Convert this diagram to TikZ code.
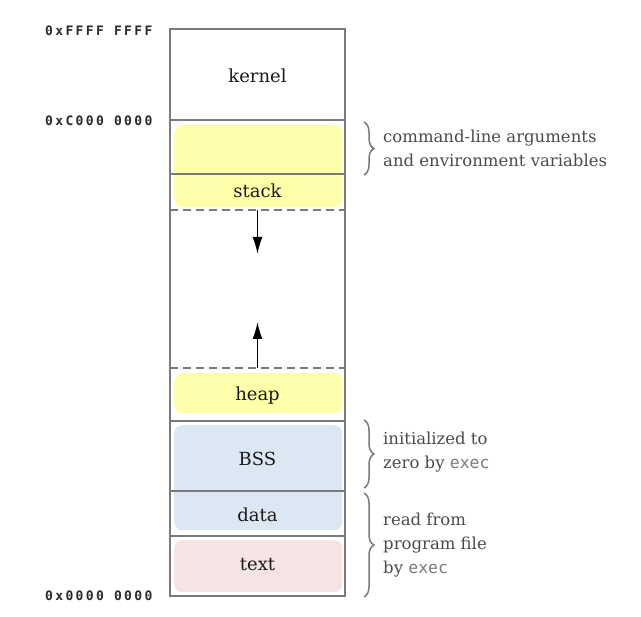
\documentclass[tikz,border=0pt]{standalone}
\usepackage{fontspec}
\setmainfont{DejaVu Serif}
\newfontfamily\addrfont[LetterSpace=18]{DejaVu Sans Mono}
\newfontfamily\execfont{DejaVu Sans Mono}
\usetikzlibrary{decorations.pathreplacing,arrows.meta}
\definecolor{memgray}{HTML}{7A7A7A}
\definecolor{stackyellow}{HTML}{FFFFAA}
\definecolor{bssblue}{HTML}{DCE7F4}
\definecolor{textpink}{HTML}{F6E4E4}
\definecolor{labeltext}{HTML}{1A1A1A}
\definecolor{notegray}{HTML}{4A4A4A}
\definecolor{execgray}{HTML}{7A7A7A}
\definecolor{addrgray}{HTML}{2A2A2A}
\begin{document}
\begin{tikzpicture}[x=1pt,y=-1pt,
  memline/.style={draw=memgray, line width=2pt},
  dashline/.style={draw=memgray, line width=2pt, dash pattern=on 8pt off 5pt},
  region/.style={rounded corners=8pt, inner sep=0pt, anchor=north west, draw=none},
  lbl/.style={font=\fontsize{18}{20}\selectfont, text=labeltext, inner sep=0pt},
  note/.style={font=\fontsize{16.5}{24}\selectfont, text=notegray, align=left, anchor=west, inner sep=0pt},
  addr/.style={font=\addrfont\bfseries\fontsize{13}{15}\selectfont, text=addrgray, anchor=west, inner sep=0pt},
  brc/.style={draw=memgray, line width=1.5pt, decorate, decoration={brace, amplitude=10pt}},
  growarrow/.style={draw=black, line width=1.5pt, -{Latex[length=17pt,width=10pt]}}
]
\useasboundingbox (0,0) rectangle (641,617);
% coloured regions
\node[region, fill=stackyellow, minimum width=168pt, minimum height=82pt] (stackbg) at (174,125) {};
\node[region, fill=stackyellow, minimum width=168pt, minimum height=40pt] (heapbg) at (174,373) {};
\node[region, fill=bssblue, minimum width=168pt, minimum height=105pt] (bssbg) at (174,425) {};
\node[region, fill=textpink, minimum width=168pt, minimum height=52pt] (textbg) at (174,540) {};
% column coordinates
\coordinate (tl) at (170,29);
\coordinate (br) at (345,596);
\coordinate (kl) at (170,120); \coordinate (kr) at (345,120);
\coordinate (al) at (170,174); \coordinate (ar) at (345,174);
\coordinate (sl) at (170,210); \coordinate (sr) at (345,210);
\coordinate (hl) at (170,368); \coordinate (hr) at (345,368);
\coordinate (ql) at (170,421); \coordinate (qr) at (345,421);
\coordinate (dl) at (170,491); \coordinate (dr) at (345,491);
\coordinate (xl) at (170,536); \coordinate (xr) at (345,536);
\draw[memline] (tl) rectangle (br);
\draw[memline, line width=2.6pt] (kl) -- (kr);
\draw[memline] (al) -- (ar);
\draw[memline] (ql) -- (qr);
\draw[memline] (dl) -- (dr);
\draw[memline] (xl) -- (xr);
\draw[dashline] (sl) -- (sr);
\draw[dashline] (hl) -- (hr);
% labels
\node[lbl] (kernel) at (257.5,76) {kernel};
\node[lbl] (stack) at (257.5,191) {stack};
\node[lbl] (heap) at (257.5,396) {heap};
\node[lbl] (bss) at (257.5,459) {BSS};
\node[lbl] (data) at (257.5,515) {data};
\node[lbl] (text) at (257.5,565) {text};
% growth arrows
\coordinate (stackend) at (257.5,210);
\coordinate (downtip) at (257.5,254);
\coordinate (heapend) at (257.5,368);
\coordinate (uptip) at (257.5,322);
\draw[growarrow] (stackend) -- (downtip);
\draw[growarrow] (heapend) -- (uptip);
% addresses
\node[addr] (atop) at (45,31) {0xFFFF FFFF};
\node[addr] (akern) at (45,121) {0xC000 0000};
\node[addr] (azero) at (45,596) {0x0000 0000};
% braces
\coordinate (b1t) at (364,122); \coordinate (b1b) at (364,175);
\coordinate (b2t) at (364,420); \coordinate (b2b) at (364,488);
\coordinate (b3t) at (364,493); \coordinate (b3b) at (364,597);
\draw[brc] (b1t) -- (b1b);
\draw[brc] (b2t) -- (b2b);
\draw[brc] (b3t) -- (b3b);
\node[note] (envnote) at (383,148.5) {command-line arguments\\and environment variables};
\node[note] (bssnote) at (383,452.5) {initialized to\\zero by {\execfont\color{execgray}exec}};
\node[note] (textnote) at (383,545) {read from\\program file\\by {\execfont\color{execgray}exec}};
\end{tikzpicture}
\end{document}
